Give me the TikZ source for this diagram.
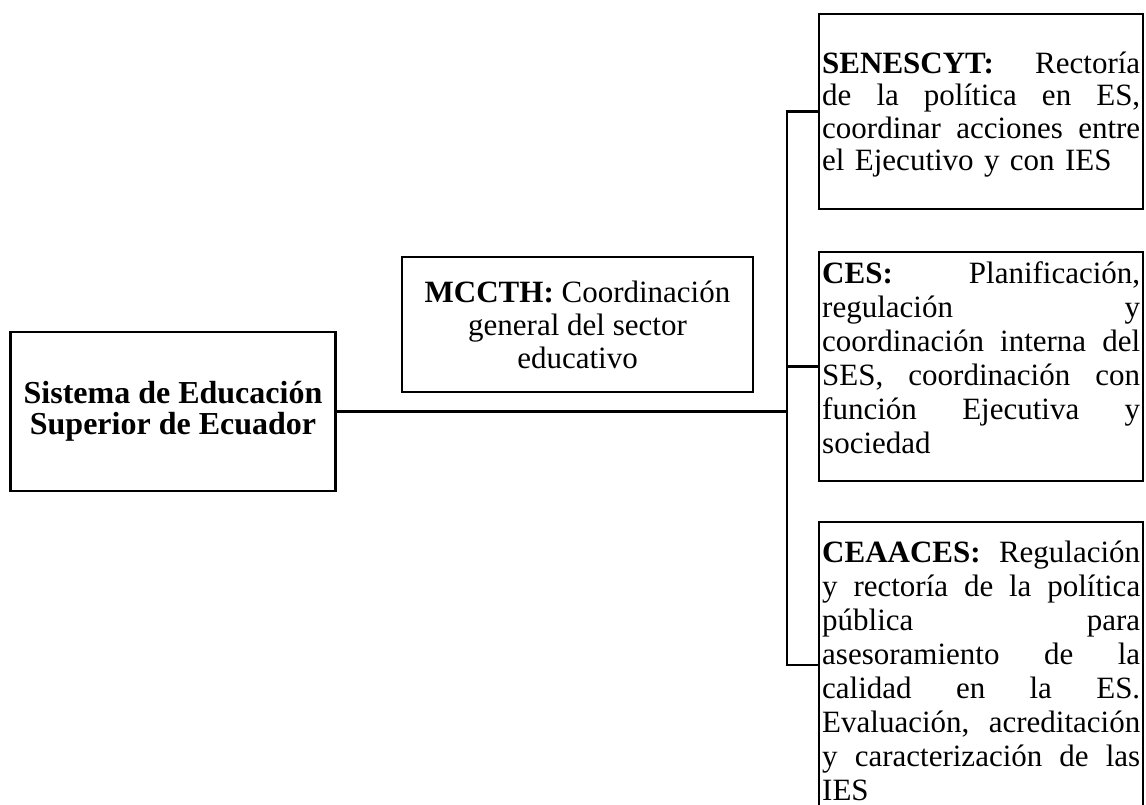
\documentclass[tikz,border=0pt]{standalone}
\usepackage{fontspec}
\setmainfont{Liberation Serif}
\newcommand{\jl}[1]{\leavevmode\hbox to 318pt{\frenchspacing\spaceskip=0.25em plus 1fil\relax #1}\\}
\begin{document}
\begin{tikzpicture}[x=1pt,y=-1pt,
  box/.style={draw, line width=2.5pt, inner sep=0pt},
  txt/.style={inner sep=0pt, anchor=north west, text width=318pt, align=left},
  conn/.style={draw, line width=2.5pt}]
\useasboundingbox (0,0) rectangle (1146,805);
\fill[white] (0,0) rectangle (1146,805);
\clip (0,0) rectangle (1146,805);

% boxes
\node[box, minimum width=325pt, minimum height=159pt, align=center,
      font=\fontsize{32}{31}\selectfont\bfseries] (sys) at (173,411.5)
      {Sistema de Educación\\Superior de Ecuador};
\node[box, minimum width=351pt, minimum height=135pt, align=center,
      font=\fontsize{31}{33}\selectfont] (mid) at (577.5,324.5)
      {\textbf{MCCTH:} Coordinación\\general del sector\\educativo};
\node[box, minimum width=324pt, minimum height=195pt] (b1) at (981,111.5) {};
\node[box, minimum width=324pt, minimum height=229pt] (b2) at (981,366.5) {};
\node[box, minimum width=324pt, minimum height=286pt] (b3) at (981,665) {};

% texts of the right boxes
\node[txt, font=\fontsize{31}{32.5}\selectfont] (t1) at (822,50.25)
  {\strut\jl{\textbf{SENESCYT:} Rectoría}\jl{de la política en ES,}\jl{coordinar acciones entre}el Ejecutivo y con IES};
\node[txt, font=\fontsize{31}{34}\selectfont] (t2) at (822,259.2)
  {\strut\jl{\textbf{CES:} Planificación,}\jl{regulación y}\jl{coordinación interna del}\jl{SES, coordinación con}\jl{función Ejecutiva y}sociedad};
\node[txt, font=\fontsize{31}{34}\selectfont] (t3) at (822,538.2)
  {\strut\jl{\textbf{CEAACES:} Regulación}\jl{y rectoría de la política}\jl{pública para}\jl{asesoramiento de la}\jl{calidad en la ES.}\jl{Evaluación, acreditación}\jl{y caracterización de las}IES};

% connectors
\coordinate (trunk) at (787,0);
\draw[conn] (b1.west) -- (b1.west -| trunk) -- (b3.west -| trunk) -- (b3.west);
\draw[conn] (b2.west -| trunk) -- (b2.west);
\draw[conn] (sys.east) -- (sys.east -| trunk);
\end{tikzpicture}
\end{document}
